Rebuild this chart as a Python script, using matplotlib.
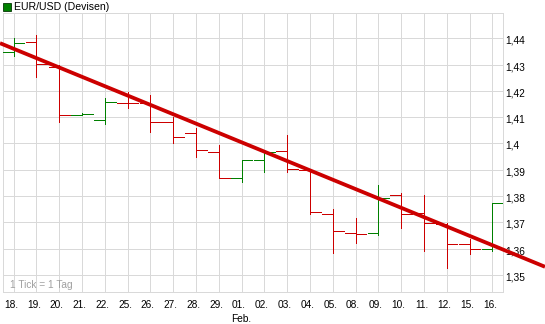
import matplotlib
matplotlib.use("Agg")
import matplotlib.pyplot as plt
from matplotlib.patches import Rectangle
import matplotlib.transforms as mtransforms

# ---- data ----
days = ["18.", "19.", "20.", "21.", "22.", "25.", "26.", "27.", "28.", "29.", "01.",
        "02.", "03.", "04.", "05.", "08.", "09.", "10.", "11.", "12.", "15.", "16."]
opens = [1.4347, 1.4385, 1.4290, 1.4110, 1.4088, 1.4155, 1.4153, 1.4083, 1.4039, 1.3967, 1.3868,
         1.3936, 1.3970, 1.3899, 1.3731, 1.3659, 1.3659, 1.3802, 1.3737, 1.3693, 1.3617, 1.3598]
highs = [1.4400, 1.4413, 1.4298, 1.4115, 1.4172, 1.4197, 1.4184, 1.4100, 1.4060, 1.3994, 1.3937,
         1.3967, 1.4032, 1.3902, 1.3750, 1.3718, 1.3842, 1.3811, 1.3804, 1.3697, 1.3636, 1.3775]
lows = [1.4334, 1.4254, 1.4083, 1.4108, 1.4073, 1.4134, 1.4045, 1.4001, 1.3948, 1.3868, 1.3855,
        1.3890, 1.3893, 1.3731, 1.3585, 1.3622, 1.3652, 1.3678, 1.3592, 1.3528, 1.3579, 1.3592]
closes = [1.4381, 1.4301, 1.4108, 1.4113, 1.4157, 1.4152, 1.4081, 1.4024, 1.3974, 1.3868, 1.3937,
          1.3967, 1.3902, 1.3740, 1.3667, 1.3655, 1.3792, 1.3731, 1.3697, 1.3617, 1.3598, 1.3775]
trend_first = 1.4360   # trend line value at first day
trend_last = 1.3613    # trend line value at last day
yticks = [1.35, 1.36, 1.37, 1.38, 1.39, 1.40, 1.41, 1.42, 1.43, 1.44]
title = "EUR/USD (Devisen)"
month_label = "Feb."
month_day = "01."
note = "1 Tick = 1 Tag"

# ---- styles ----
W, H, DPI = 545, 324, 100
UP = "#008000"
DOWN = "#cc0000"
GRID = "#d9d9d9"
FONT = "Liberation Sans"
px = 72.0 / DPI  # points per pixel

fig = plt.figure(figsize=(W / DPI, H / DPI), dpi=DPI)
ax = fig.add_axes([2.7 / W, 1 - 292 / H, (503.3 - 2.7) / W, (292 - 13) / H])

n = len(days)
xs = list(range(n))
ax.set_xlim(-0.48, n - 1 + 0.48)
ax.set_ylim(1.3435, 1.4496)

colors = [UP if c >= o else DOWN for o, c in zip(opens, closes)]
hw = 0.47
ax.vlines(xs, lows, highs, colors=colors, linewidth=1.0 * px, antialiased=False, zorder=3)
ax.hlines(opens, [x - hw for x in xs], xs, colors=colors, linewidth=1.0 * px, antialiased=False, zorder=3)
ax.hlines(closes, xs, [x + hw for x in xs], colors=colors, linewidth=1.0 * px, antialiased=False, zorder=3)

# trend line extended across the whole figure width
inv = ax.transData.inverted()
xl = inv.transform(fig.transFigure.transform((0, 0)))[0]
xr = inv.transform(fig.transFigure.transform((1, 0)))[0]
slope = (trend_last - trend_first) / (n - 1)
ax.plot([xl, xr], [trend_first + slope * (xl - 0), trend_first + slope * (xr - 0)],
        color=DOWN, linewidth=3.8 * px, clip_on=False, zorder=5, solid_capstyle="butt")

# grid & spines
ax.set_xticks(xs)
ax.set_yticks(yticks)
ax.grid(True, color=GRID, linewidth=1.0 * px, zorder=0)
ax.set_axisbelow(True)
for s in ax.spines.values():
    s.set_color(GRID)
    s.set_linewidth(1.0 * px)

ax.yaxis.tick_right()
ylabels = [f"{v:.2f}".rstrip("0").replace(".", ",") for v in yticks]
ax.set_yticklabels(ylabels, fontsize=7.3, family=FONT)
ax.set_xticklabels(days, fontsize=7.3, family=FONT)
ax.tick_params(axis="both", length=0)
ax.tick_params(axis="y", pad=1.5)
ax.tick_params(axis="x", pad=6)
offx = mtransforms.ScaledTranslation(-2.5 / DPI, 0, fig.dpi_scale_trans)
for lab in ax.get_xticklabels():
    lab.set_transform(lab.get_transform() + offx)
offy = mtransforms.ScaledTranslation(0, -1.5 / DPI, fig.dpi_scale_trans)
for lab in ax.get_yticklabels():
    lab.set_transform(lab.get_transform() + offy)

# month label under its day
mi = days.index(month_day)
ax.text(mi, 0, month_label, transform=ax.get_xaxis_transform(), fontsize=7.3, family=FONT,
        ha="center", va="top") .set_transform(
    mtransforms.offset_copy(ax.get_xaxis_transform(), fig=fig, x=0, y=-22 * px, units="points"))

# note inside plot
ax.text(10 / W, 1 - 285 / H, note, transform=fig.transFigure, fontsize=7.3, family=FONT,
        color="#a0a0a0", ha="left", va="center")

# title with legend square
fig.patches.append(Rectangle((2.7 / W, 1 - 10.5 / H), 8 / W, 8 / H, transform=fig.transFigure,
                             facecolor=UP, edgecolor="#003000", linewidth=0.8 * px))
fig.text(14 / W, 1 - 6.5 / H, title, fontsize=7.6, family=FONT, ha="left", va="center")

fig.savefig("out.png", dpi=DPI)
